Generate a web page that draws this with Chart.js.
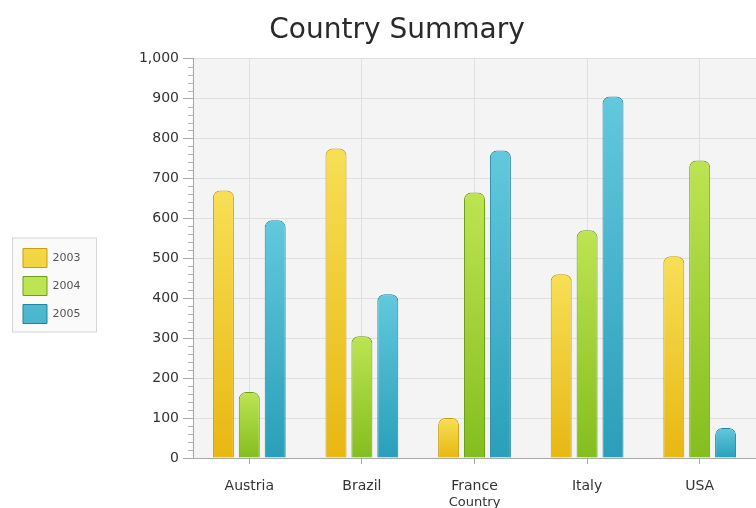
<!DOCTYPE html>
<html>
<head>
<meta charset="utf-8">
<title>Country Summary</title>
<script src="https://cdn.jsdelivr.net/npm/chart.js@4"></script>
<style>
  html, body { margin: 0; padding: 0; background: #fff; }
  #wrap { width: 756px; height: 508px; position: relative; }
</style>
</head>
<body>
<div id="wrap"><canvas id="summary"></canvas></div>
<script>
"use strict";
{
  const countries = ["Austria", "Brazil", "France", "Italy", "USA"];
  const years = ["2003", "2004", "2005"];
  const sales2003 = [670, 775, 100, 460, 505];
  const sales2004 = [165, 305, 665, 570, 745];
  const sales2005 = [595, 410, 770, 905, 75];
  const yTicks = [0, 100, 200, 300, 400, 500, 600, 700, 800, 900, 1000];

  // top / bottom / outline for each year's bars
  const palette = [
    ["#f7df55", "#e8b712", "#c99d0c"],
    ["#bde452", "#84be1e", "#6f9e18"],
    ["#62c8de", "#2a9fb9", "#21859c"],
  ];

  function barFill(top, bottom) {
    return (ctx) => {
      const chart = ctx.chart;
      if (!chart.chartArea || ctx.type !== "data") return bottom;
      const yScale = chart.scales.y;
      const y0 = yScale.getPixelForValue(ctx.parsed.y);
      const y1 = yScale.getPixelForValue(0);
      if (!isFinite(y0) || !isFinite(y1) || y0 === y1) return bottom;
      const g = chart.ctx.createLinearGradient(0, y0, 0, y1);
      g.addColorStop(0, top);
      g.addColorStop(1, bottom);
      return g;
    };
  }

  const series = [sales2003, sales2004, sales2005];
  const datasets = series.map((values, i) => ({
    label: years[i],
    data: values,
    backgroundColor: barFill(palette[i][0], palette[i][1]),
    borderColor: palette[i][2],
    borderWidth: 1,
    borderSkipped: "bottom",
    borderRadius: { topLeft: 7, topRight: 7, bottomLeft: 0, bottomRight: 0 },
    categoryPercentage: 0.69,
    barPercentage: 0.81,
  }));

  // plot background, legend frame and the small minor ticks on the value axis
  const chrome = {
    id: "chrome",
    beforeLayout(chart) {
      const legend = chart.legend;
      if (legend && !legend._fixedWidth) {
        const fit = legend.fit;
        legend.fit = function () {
          fit.call(this);
          this.width = 106;
          this.right = this.left + this.width;
        };
        legend._fixedWidth = true;
      }
    },
    afterLayout(chart) {
      // title sits a little right of the canvas centre, legend a little low
      const title = chart.titleBlock;
      title.left += 24;
      chart.legend.top += 64;
    },
    beforeDraw(chart) {
      const { ctx, chartArea } = chart;
      ctx.save();
      ctx.fillStyle = "#f4f4f4";
      ctx.fillRect(chartArea.left, chartArea.top, chartArea.right - chartArea.left, chartArea.bottom - chartArea.top);
      const boxes = chart.legend.legendHitBoxes;
      if (boxes && boxes.length) {
        const first = boxes[0];
        const last = boxes[boxes.length - 1];
        const x = first.left - 10.5;
        const y = first.top - 10.5;
        const h = last.top + last.height - first.top + 19;
        ctx.fillStyle = "#fafafa";
        ctx.strokeStyle = "#d6d6d6";
        ctx.lineWidth = 1;
        ctx.fillRect(x, y, 84, h);
        ctx.strokeRect(x, y, 84, h);
      }
      ctx.restore();
    },
    afterDraw(chart) {
      const { ctx } = chart;
      const y = chart.scales.y;
      ctx.save();
      ctx.strokeStyle = "#b4b4b4";
      ctx.lineWidth = 1;
      ctx.beginPath();
      for (let v = 0; v <= 1000; v += 20) {
        if (v % 100 === 0) continue;
        const py = Math.round(y.getPixelForValue(v)) + 0.5;
        ctx.moveTo(y.right - 5, py);
        ctx.lineTo(y.right, py);
      }
      ctx.stroke();
      ctx.restore();
    },
  };

  new Chart(document.getElementById("summary"), {
    type: "bar",
    data: { labels: countries, datasets: datasets },
    plugins: [chrome],
    options: {
      responsive: true,
      maintainAspectRatio: false,
      animation: false,
      layout: { padding: { left: 14, right: 0, top: 0, bottom: 0 } },
      plugins: {
        title: {
          display: true,
          text: "Country Summary",
          color: "#2a2a2a",
          font: { family: "DejaVu Sans", size: 28, weight: "normal" },
          padding: { top: 14, bottom: 11 },
        },
        legend: {
          position: "left",
          labels: {
            boxWidth: 24,
            boxHeight: 19,
            padding: 9,
            color: "#555",
            font: { family: "DejaVu Sans", size: 11 },
          },
        },
        tooltip: { enabled: false },
      },
      scales: {
        x: {
          afterFit(s) { s.height = 50; },
          grid: { offset: false, color: "#e0e0e0", tickLength: 6, tickColor: "#a8a8a8" },
          border: { color: "#a8a8a8" },
          ticks: { color: "#333", padding: 14, font: { family: "DejaVu Sans", size: 14 } },
          title: {
            display: true,
            text: "Country",
            color: "#333",
            font: { family: "DejaVu Sans", size: 13 },
            padding: { top: 0, bottom: -2 },
          },
        },
        y: {
          min: 0,
          max: 1000,
          afterFit(s) { s.width = 73; },
          afterBuildTicks(s) { s.ticks = yTicks.map((v) => ({ value: v })); },
          grid: { color: "#e0e0e0", tickLength: 10, tickColor: "#a8a8a8" },
          border: { color: "#a8a8a8" },
          ticks: {
            color: "#333",
            padding: 4,
            font: { family: "DejaVu Sans", size: 14 },
            callback: (v) => v.toLocaleString("en-US"),
          },
        },
      },
    },
  });
}
</script>
</body>
</html>
